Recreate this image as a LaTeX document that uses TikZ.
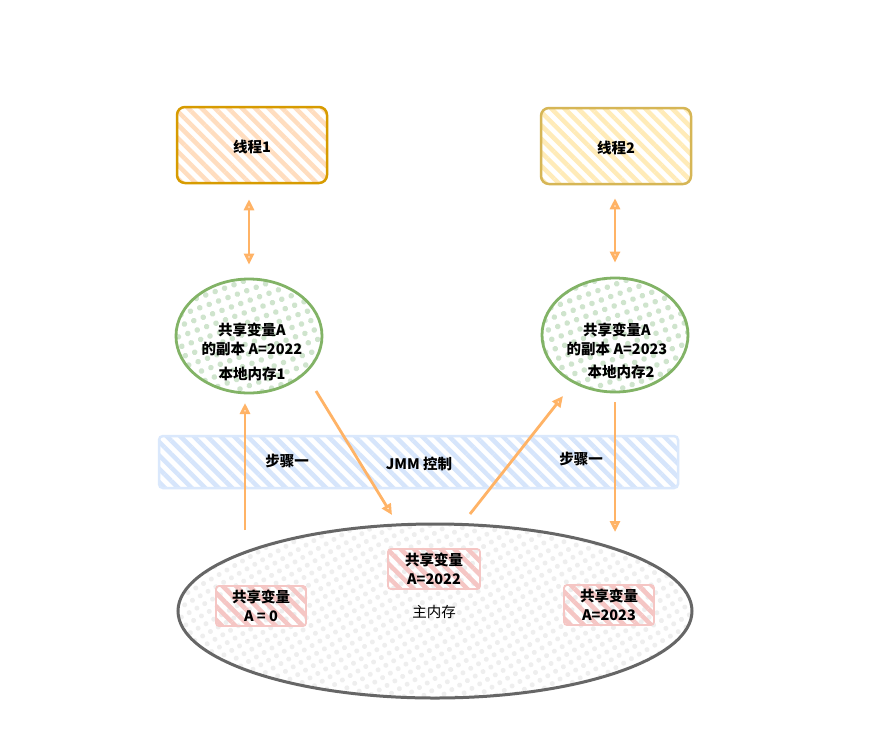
\documentclass[tikz,border=0pt]{standalone}
\usepackage{fontspec}
\setmainfont{Noto Sans CJK SC}
\usetikzlibrary{patterns.meta,arrows.meta,shapes.geometric,calc}
\definecolor{orfill}{HTML}{FFDDBF}
\definecolor{orline}{HTML}{D79B00}
\definecolor{yefill}{HTML}{FFEBB8}
\definecolor{yeline}{HTML}{D6B656}
\definecolor{grfill}{HTML}{CFE4CD}
\definecolor{grline}{HTML}{82B366}
\definecolor{blfill}{HTML}{D6E5FB}
\definecolor{blline}{HTML}{DAE8FC}
\definecolor{rdfill}{HTML}{F5C6C4}
\definecolor{gyfill}{HTML}{EEEEEE}
\definecolor{gyline}{HTML}{666666}
\definecolor{arrcol}{HTML}{FFB366}
\begin{document}
\begin{tikzpicture}[x=1pt,y=-1pt,
  every node/.style={font=\fontsize{14.5}{19}\selectfont\bfseries, align=center, text=black},
  hatch/.style={pattern={Lines[angle=-45,distance=9.5pt,line width=4.5pt]}},
  thbox/.style={rectangle, rounded corners=8pt, line width=2.5pt, hatch, minimum width=150pt, minimum height=76pt},
  memell/.style={ellipse, draw=grline, line width=2.8pt, pattern={Dots[radius=2.8pt,distance=10pt,angle=20]}, pattern color=grfill, minimum width=146pt, minimum height=114pt},
  varbox/.style={rectangle, rounded corners=3pt, draw=rdfill, line width=1.8pt, hatch, pattern color=rdfill, minimum width=90pt, minimum height=40pt, inner sep=1pt},
  arr/.style={draw=arrcol, line width=2.8pt, -{Triangle[open,length=11pt,width=10pt]}},
  darr/.style={draw=arrcol, line width=2.8pt, {Triangle[open,length=11pt,width=10pt]}-{Triangle[open,length=11pt,width=10pt]}}
]
\useasboundingbox (0,0) rectangle (877,753);
\fill[white] (0,0) rectangle (877,753);

% threads
\node[thbox, draw=orline, pattern color=orfill] (t1) at (252,145) {};
\node (t1l) at (252,147) {线程1};
\node[thbox, draw=yeline, pattern color=yefill] (t2) at (616,146) {};
\node (t2l) at (616,148) {线程2};

% local memories
\node[memell] (m1) at (249,336) {};
\node (m1t) at (252,339) {共享变量A\\的副本 A=2022};
\node (m1l) at (252,374) {本地内存1};
\node[memell] (m2) at (615,335) {};
\node (m2t) at (617,339) {共享变量A\\的副本 A=2023};
\node (m2l) at (621,372) {本地内存2};

% JMM band
\node[rectangle, rounded corners=4pt, draw=blline, line width=2.5pt, hatch, pattern color=blfill, minimum width=519pt, minimum height=52pt] (jmm) at (418.5,462) {};
\node (jmml) at (419,464) {JMM 控制};
\node (s1) at (287,461) {步骤一};
\node (s2) at (581,459) {步骤一};

% main memory
\node[ellipse, draw=gyline, line width=3pt, pattern={Dots[radius=2.5pt,distance=9pt,angle=30]}, pattern color=gyfill, minimum width=514pt, minimum height=174pt] (mm) at (435,611) {};
\node[font=\fontsize{14.5}{19}\selectfont] (mml) at (434,612) {主内存};
\node[varbox] (v0) at (261,606) {共享变量\\A = 0};
\node[varbox, minimum width=92pt] (v1) at (434,569) {共享变量\\A=2022};
\node[varbox] (v2) at (609,605) {共享变量\\A=2023};

% arrows
\draw[darr, shorten <=14pt, shorten >=13pt] (m1.north |- t1.south) -- (m1.north);
\draw[darr, shorten <=13pt, shorten >=14pt] (m2.north |- t2.south) -- (m2.north);
\coordinate (a1s) at (245,530);
\coordinate (a1e) at (245,403);
\draw[arr] (a1s) -- (a1e);
\coordinate (a2s) at (316,391);
\coordinate (a2e) at (392,515);
\draw[arr] (a2s) -- (a2e);
\coordinate (a3s) at (470,514);
\coordinate (a3e) at (563,396);
\draw[arr] (a3s) -- (a3e);
\coordinate (a4s) at (615,402);
\coordinate (a4e) at (615,532);
\draw[arr] (a4s) -- (a4e);
\end{tikzpicture}
\end{document}
